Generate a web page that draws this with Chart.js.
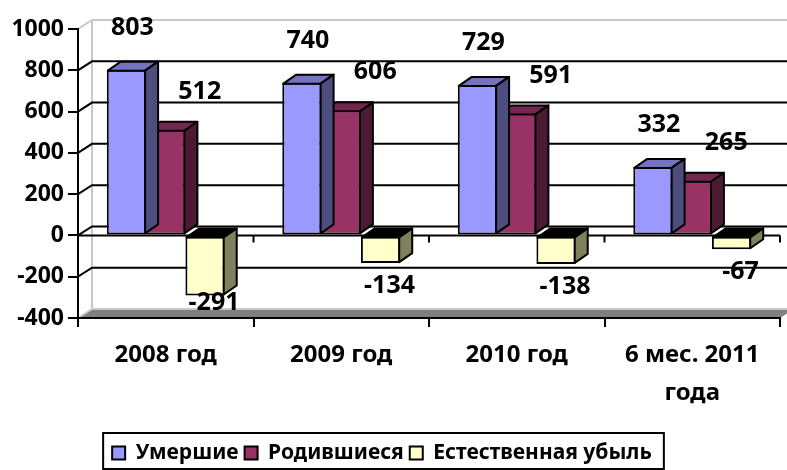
<!DOCTYPE html>
<html><head><meta charset="utf-8">
<script src="https://cdn.jsdelivr.net/npm/chart.js@4"></script>
<style>html,body{margin:0;padding:0;background:#fff}canvas{display:block}</style>
</head><body>
<canvas id="c" width="787" height="470"></canvas>
<script>
const categories = ['2008 год', '2009 год', '2010 год', ['6 мес. 2011', 'года']];
const seriesNames = ['Умершие', 'Родившиеся', 'Естественная убыль'];
const deaths = [803, 740, 729, 332];
const births = [512, 606, 591, 265];
const naturalDecline = [-291, -134, -138, -67];
const yMin = -400, yMax = 1000, yStep = 200;

const FONT = "'Noto Sans', 'DejaVu Sans', sans-serif";
const frontColors = ['#9999FF', '#993366', '#FFFFCC'];
const sideColors = ['#4D4D80', '#4D1A33', '#80805F'];
const topColors = ['#7373BF', '#732650', '#000000'];
const WALL_DX = 14, WALL_DY = 9, BAR_DX = 13, BAR_DY = 9;
const labelOffsets = [[6, -42], [34, -38], [9, 23]];
const PLOT_BOTTOM = 318;
const LEGEND_CENTER = 453;
const LEGEND_SHIFT_X = -8;

function poly(ctx, pts, fill) {
  ctx.beginPath();
  pts.forEach((p, i) => i ? ctx.lineTo(p[0], p[1]) : ctx.moveTo(p[0], p[1]));
  ctx.closePath();
  ctx.fillStyle = fill;
  ctx.fill();
  ctx.stroke();
}

const wallPlugin = {
  id: 'wall3d',
  beforeDraw(chart) {
    const {ctx, chartArea: a, scales: {y}} = chart;
    const yTop = y.getPixelForValue(yMax), yBot = y.getPixelForValue(yMin);
    ctx.save();
    ctx.lineWidth = 2;
    ctx.fillStyle = '#808080';
    ctx.beginPath();
    ctx.moveTo(a.left, yBot); ctx.lineTo(a.left + WALL_DX, yBot - WALL_DY);
    ctx.lineTo(a.right + WALL_DX, yBot - WALL_DY); ctx.lineTo(a.right, yBot);
    ctx.closePath(); ctx.fill();
    ctx.strokeStyle = '#C8C8C8';
    ctx.beginPath();
    ctx.moveTo(a.left, yBot); ctx.lineTo(a.left + WALL_DX, yBot - WALL_DY);
    ctx.lineTo(a.right + WALL_DX, yBot - WALL_DY);
    ctx.moveTo(a.left, yTop); ctx.lineTo(a.left + WALL_DX, yTop - WALL_DY);
    ctx.lineTo(a.right + WALL_DX, yTop - WALL_DY);
    ctx.moveTo(a.left + WALL_DX, yTop - WALL_DY); ctx.lineTo(a.left + WALL_DX, yBot - WALL_DY);
    ctx.stroke();
    ctx.strokeStyle = '#000';
    y.ticks.forEach(t => {
      if (t.value === yMax || t.value === yMin) return;
      const py = y.getPixelForValue(t.value);
      ctx.beginPath();
      ctx.moveTo(a.left, py); ctx.lineTo(a.left + WALL_DX, py - WALL_DY);
      ctx.lineTo(a.right + WALL_DX, py - WALL_DY);
      ctx.stroke();
    });
    ctx.restore();
  },
  beforeDatasetsDraw(chart) {
    const {ctx, chartArea: a, scales: {y}} = chart;
    const y0 = y.getPixelForValue(0);
    ctx.save();
    ctx.lineWidth = 2; ctx.strokeStyle = '#000';
    ctx.beginPath(); ctx.moveTo(a.left, y0); ctx.lineTo(a.right, y0);
    const n = categories.length, w = (a.right - a.left) / n;
    for (let i = 1; i <= n; i++) { const px = a.left + i * w; ctx.moveTo(px, y0); ctx.lineTo(px, y0 + 7); }
    ctx.stroke();
    ctx.restore();
  },
  afterDatasetDraw(chart, args) {
    const {ctx} = chart;
    const i = args.index;
    ctx.save();
    ctx.lineWidth = 2; ctx.strokeStyle = '#000'; ctx.lineJoin = 'round';
    args.meta.data.forEach(el => {
      const p = el.getProps(['x', 'y', 'base', 'width'], true);
      const xl = p.x - p.width / 2 + 1, xr = p.x + p.width / 2 - 1;
      const top = Math.min(p.y, p.base) + 1, bot = Math.max(p.y, p.base) - 1;
      poly(ctx, [[xl, top], [xl + BAR_DX, top - BAR_DY], [xr + BAR_DX, top - BAR_DY], [xr, top]], topColors[i]);
      poly(ctx, [[xr, top], [xr + BAR_DX, top - BAR_DY], [xr + BAR_DX, bot - BAR_DY], [xr, bot]], sideColors[i]);
    });
    ctx.restore();
  },
  afterDatasetsDraw(chart) {
    const {ctx, scales: {y}} = chart;
    const floorLimit = y.getPixelForValue(yMin) - 15;
    ctx.save();
    ctx.font = 'bold 25px ' + FONT;
    ctx.fillStyle = '#000'; ctx.textAlign = 'center'; ctx.textBaseline = 'middle';
    chart.data.datasets.forEach((ds, i) => {
      chart.getDatasetMeta(i).data.forEach((el, j) => {
        const v = ds.data[j];
        const [ox, oy] = labelOffsets[i];
        let ly = el.y + oy;
        if (v < 0) ly = Math.min(ly, floorLimit);
        ctx.fillText(String(v), el.x + ox, ly);
      });
    });
    ctx.restore();
  },
  afterLayout(chart) {
    const L = chart.legend;
    if (!L) return;
    const shift = LEGEND_CENTER - (L.top + L.options.labels.padding + L.options.labels.font.size / 2);
    L.top += shift; L.bottom += shift;
    L.left += LEGEND_SHIFT_X; L.right += LEGEND_SHIFT_X;
    (L.legendHitBoxes || []).forEach(h => { h.left += LEGEND_SHIFT_X; h.top += shift; });
  },
  afterDraw(chart) {
    const L = chart.legend;
    if (!L || !L.legendHitBoxes.length) return;
    const hb = L.legendHitBoxes;
    const left = Math.min(...hb.map(h => h.left)) - 9;
    const right = Math.max(...hb.map(h => h.left + h.width)) + 12;
    const {ctx} = chart;
    ctx.save();
    ctx.lineWidth = 2; ctx.strokeStyle = '#000';
    ctx.strokeRect(left, LEGEND_CENTER - 20, right - left, 36);
    ctx.restore();
  }
};

new Chart(document.getElementById('c'), {
  type: 'bar',
  data: {
    labels: categories,
    datasets: [
      {label: seriesNames[0], data: deaths},
      {label: seriesNames[1], data: births},
      {label: seriesNames[2], data: naturalDecline}
    ].map((d, i) => Object.assign(d, {
      backgroundColor: frontColors[i], borderColor: '#000', borderWidth: 2, borderSkipped: false,
      categoryPercentage: 0.672, barPercentage: 1
    }))
  },
  options: {
    responsive: false, animation: false, devicePixelRatio: 1,
    layout: {padding: {top: 29, right: 7, left: 0, bottom: 0}},
    plugins: {
      tooltip: {enabled: false},
      legend: {
        position: 'bottom',
        labels: {boxWidth: 13, boxHeight: 13, padding: 6, color: '#000', font: {family: FONT, size: 21, weight: 'bold'}}
      }
    },
    scales: {
      x: {
        grid: {offset: true, drawOnChartArea: false, drawTicks: true, tickLength: 9, color: '#000', lineWidth: 2},
        border: {color: '#000', width: 2},
        ticks: {color: '#000', padding: 10, maxRotation: 0, autoSkip: false, font: {family: FONT, size: 24, weight: 'bold', lineHeight: 1.55}},
        afterFit(s) { s.height = s.chart.height - PLOT_BOTTOM - (s.chart.legend ? s.chart.legend.height : 0); }
      },
      y: {
        min: yMin, max: yMax,
        grid: {drawOnChartArea: false, drawTicks: true, tickLength: 10, color: '#000', lineWidth: 2},
        border: {color: '#000', width: 2},
        ticks: {stepSize: yStep, color: '#000', padding: 4, font: {family: FONT, size: 23, weight: 'bold'}, callback: v => String(v)},
        afterFit(s) { s.width = 78; }
      }
    }
  },
  plugins: [wallPlugin]
});
</script>
</body></html>
